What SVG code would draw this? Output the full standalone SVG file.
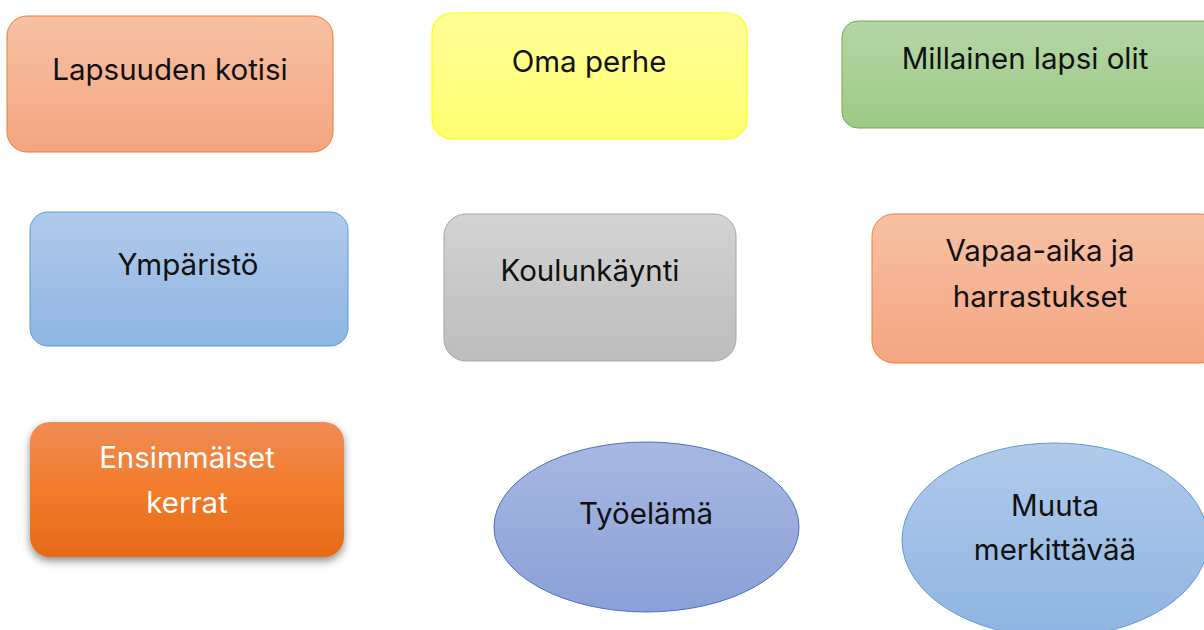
<svg xmlns="http://www.w3.org/2000/svg" width="1204" height="630" viewBox="0 0 1204 630">
<defs>
<linearGradient id="gPeach" x1="0" y1="0" x2="0" y2="1"><stop offset="0" stop-color="#F7C1A4"/><stop offset="1" stop-color="#F4A582"/></linearGradient>
<linearGradient id="gYellow" x1="0" y1="0" x2="0" y2="1"><stop offset="0" stop-color="#FFFF99"/><stop offset="1" stop-color="#FFFF70"/></linearGradient>
<linearGradient id="gGreen" x1="0" y1="0" x2="0" y2="1"><stop offset="0" stop-color="#B5D5A6"/><stop offset="1" stop-color="#9DCB86"/></linearGradient>
<linearGradient id="gBlue" x1="0" y1="0" x2="0" y2="1"><stop offset="0" stop-color="#B0CAEA"/><stop offset="1" stop-color="#8FB5E3"/></linearGradient>
<linearGradient id="gGray" x1="0" y1="0" x2="0" y2="1"><stop offset="0" stop-color="#D3D3D3"/><stop offset="1" stop-color="#BDBDBD"/></linearGradient>
<linearGradient id="gOrange" x1="0" y1="0" x2="0" y2="1"><stop offset="0" stop-color="#F08C54"/><stop offset="0.5" stop-color="#F27C2C"/><stop offset="1" stop-color="#E56B17"/></linearGradient>
<linearGradient id="gIndigo" x1="0" y1="0" x2="0" y2="1"><stop offset="0" stop-color="#A8B8E0"/><stop offset="1" stop-color="#8AA0D8"/></linearGradient>
<linearGradient id="gSky" x1="0" y1="0" x2="0" y2="1"><stop offset="0" stop-color="#B0CBEA"/><stop offset="1" stop-color="#8FB4E2"/></linearGradient>
<filter id="shadow" x="-10%" y="-10%" width="120%" height="130%"><feDropShadow dx="0" dy="4" stdDeviation="4" flood-color="#000" flood-opacity="0.45"/></filter>
</defs>
<style>
text{font-family:Inter,"Noto Sans","Liberation Sans",sans-serif;font-size:29.5px;text-anchor:middle;fill:#111}
.w{fill:#fff}
</style>
<rect width="1204" height="630" fill="#fff"/>
<g id="connectors"/>
<g id="n1"><rect x="7" y="16" width="326" height="136" rx="20" fill="url(#gPeach)" stroke="#ED7D31" stroke-width="1"/><text x="170" y="80">Lapsuuden kotisi</text></g>
<g id="n2"><rect x="432" y="13" width="315" height="126" rx="20" fill="url(#gYellow)" stroke="#FFFF00" stroke-width="1.2"/><text x="589" y="72">Oma perhe</text></g>
<g id="n3"><rect x="842" y="21" width="380" height="107" rx="16" fill="url(#gGreen)" stroke="#70AD47" stroke-width="1"/><text x="1025" y="69">Millainen lapsi olit</text></g>
<g id="n4"><rect x="30" y="212" width="318" height="134" rx="18" fill="url(#gBlue)" stroke="#5B9BD5" stroke-width="1"/><text x="188" y="275">Ympäristö</text></g>
<g id="n5"><rect x="444" y="214" width="292" height="147" rx="22" fill="url(#gGray)" stroke="#A5A5A5" stroke-width="1"/><text x="590" y="281">Koulunkäynti</text></g>
<g id="n6"><rect x="872" y="214" width="350" height="149" rx="22" fill="url(#gPeach)" stroke="#ED7D31" stroke-width="1"/><text x="1040" y="261">Vapaa-aika ja</text><text x="1040" y="307">harrastukset</text></g>
<g id="n7"><rect x="30" y="422" width="314" height="135" rx="20" fill="url(#gOrange)" filter="url(#shadow)"/><text class="w" x="187" y="468">Ensimmäiset</text><text class="w" x="187" y="513">kerrat</text></g>
<g id="n8"><ellipse cx="646.5" cy="527" rx="152.5" ry="85" fill="url(#gIndigo)" stroke="#4472C4" stroke-width="1"/><text x="646" y="524">Työelämä</text></g>
<g id="n9"><ellipse cx="1055" cy="540" rx="153" ry="97" fill="url(#gSky)" stroke="#5B9BD5" stroke-width="1"/><text x="1055" y="516">Muuta</text><text x="1055" y="560">merkittävää</text></g>
</svg>
